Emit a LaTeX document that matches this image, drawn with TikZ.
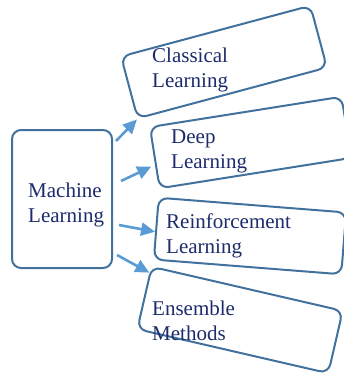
\documentclass[tikz,border=0pt]{standalone}
\usepackage{xcolor}
\usepackage{fontspec}
\setmainfont{Liberation Serif}
\usepackage{tikz}
\usetikzlibrary{arrows.meta,calc}
\definecolor{cerceveMavi}{HTML}{41719C}
\definecolor{okMavi}{HTML}{5B9BD5}
\definecolor{yaziLaci}{HTML}{1C2B6B}

\begin{document}
\begin{tikzpicture}[x=1pt,y=-1pt,
  kutu/.style={draw=cerceveMavi,line width=2pt,rounded corners=9pt,inner sep=0pt},
  yazi/.style={text=yaziLaci,align=left,anchor=base west,inner sep=0pt,font=\fontsize{21}{24.5}\selectfont},
  ok/.style={okMavi,line width=2.6pt,-{Triangle[length=14pt,width=13pt]}}]
\useasboundingbox (0,0) rectangle (344,375);
% koordinatlar piksel gibi: y asagi dogru, yazilar son satirin tabanina gore
\node[kutu,minimum width=100pt,minimum height=138pt] (ml) at (62,199) {};
\node[kutu,rotate=15,minimum width=196pt,minimum height=64pt] (classical) at (224,62) {};
\node[kutu,rotate=9,minimum width=194pt,minimum height=62pt] (deep) at (250.6,142.5) {};
\node[kutu,rotate=-4.5,minimum width=188pt,minimum height=62pt] (reinf) at (250,236) {};
\node[kutu,rotate=-13,minimum width=196pt,minimum height=64pt] (ensemble) at (240,320) {};
\node[yazi] (mltxt) at (28,222) {Machine\\Learning};
\node[yazi] (classicaltxt) at (152,87) {Classical\\Learning};
\node[yazi] (deeptxt) at (171,168) {Deep\\Learning};
\node[yazi] (reinftxt) at (166,253) {Reinforcement\\Learning};
\node[yazi] (ensembletxt) at (152,340) {Ensemble\\Methods};
\draw[ok] ([shift={(3,-58)}]ml.east) -- (classical.south west);
\draw[ok] ([shift={(8,-18)}]ml.east) -- ($(deep.north west)!0.64!(deep.south west)+(-4,0)$);
\draw[ok] ([shift={(6,26)}]ml.east) -- ($(reinf.north west)!0.55!(reinf.south west)$);
\draw[ok] ([shift={(4,56)}]ml.east) -- ($(ensemble.north west)!0.11!(ensemble.south west)$);
\end{tikzpicture}
\end{document}
